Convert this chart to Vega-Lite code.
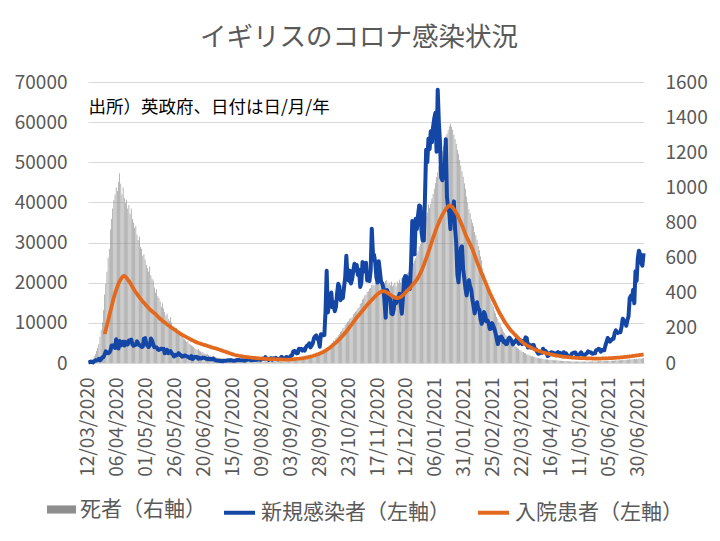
{
"$schema": "https://vega.github.io/schema/vega-lite/v6.json",
"width": 556,
"height": 281,
"autosize": {"type": "none"},
"padding": {"left": 88, "top": 82, "right": 76, "bottom": 178},
"background": "white",
"title": {"text": "イギリスのコロナ感染状況", "font": "Noto Sans CJK JP", "fontSize": 26.5, "fontWeight": "normal", "color": "#595959", "anchor": "middle", "offset": 22, "dx": -7},
"data": {"values": [
{"d":"2020-03-12","de":5,"ca":134},{"d":"2020-03-13","de":8,"ca":208},{"d":"2020-03-14","de":12,"ca":342},{"d":"2020-03-15","de":20,"ca":251},{"d":"2020-03-16","de":25,"ca":152},{"d":"2020-03-17","de":38,"ca":407},{"d":"2020-03-18","de":50,"ca":676},{"d":"2020-03-19","de":68,"ca":643},{"d":"2020-03-20","de":85,"ca":714},{"d":"2020-03-21","de":110,"ca":1035},{"d":"2020-03-22","de":150,"ca":665},{"d":"2020-03-23","de":190,"ca":967},{"d":"2020-03-24","de":230,"ca":1427},{"d":"2020-03-25","de":300,"ca":1452},{"d":"2020-03-26","de":390,"ca":2129,"ho":7200},{"d":"2020-03-27","de":450,"ca":2885,"ho":8300},{"d":"2020-03-28","de":520,"ca":2546,"ho":9400},{"d":"2020-03-29","de":600,"ca":2433,"ho":10500},{"d":"2020-03-30","de":650,"ca":2619,"ho":11700},{"d":"2020-03-31","de":760,"ca":3009,"ho":12900},
{"d":"2020-04-01","de":820,"ca":4324,"ho":14000},{"d":"2020-04-02","de":880,"ca":4244,"ho":15200},{"d":"2020-04-03","de":930,"ca":4450,"ho":16300},{"d":"2020-04-04","de":960,"ca":3735,"ho":17300},{"d":"2020-04-05","de":1000,"ca":5903,"ho":18200},{"d":"2020-04-06","de":980,"ca":3802,"ho":19000},{"d":"2020-04-07","de":1030,"ca":3634,"ho":19800},{"d":"2020-04-08","de":1080,"ca":5491,"ho":20400},{"d":"2020-04-09","de":1020,"ca":4344,"ho":20900},{"d":"2020-04-10","de":960,"ca":5195,"ho":21300},{"d":"2020-04-11","de":1000,"ca":5288,"ho":21600},{"d":"2020-04-12","de":940,"ca":4342,"ho":21700},{"d":"2020-04-13","de":910,"ca":5252,"ho":21500},{"d":"2020-04-14","de":930,"ca":4603,"ho":21200},{"d":"2020-04-15","de":880,"ca":4617,"ho":20800},{"d":"2020-04-16","de":900,"ca":5599,"ho":20400},{"d":"2020-04-17","de":850,"ca":5525,"ho":20000},{"d":"2020-04-18","de":880,"ca":5850,"ho":19500},{"d":"2020-04-19","de":820,"ca":4676,"ho":19000},{"d":"2020-04-20","de":800,"ca":4301,"ho":18500},{"d":"2020-04-21","de":770,"ca":4451,"ho":18000},{"d":"2020-04-22","de":780,"ca":4583,"ho":17600},{"d":"2020-04-23","de":730,"ca":5386,"ho":17200},{"d":"2020-04-24","de":700,"ca":4913,"ho":16800},{"d":"2020-04-25","de":720,"ca":4463,"ho":16400},{"d":"2020-04-26","de":660,"ca":4309,"ho":16000},{"d":"2020-04-27","de":650,"ca":3996,"ho":15700},{"d":"2020-04-28","de":610,"ca":4076,"ho":15300},{"d":"2020-04-29","de":620,"ca":6032,"ho":15000},{"d":"2020-04-30","de":590,"ca":6201,"ho":14700},
{"d":"2020-05-01","de":560,"ca":4806,"ho":14300},{"d":"2020-05-02","de":540,"ca":4339,"ho":14000},{"d":"2020-05-03","de":520,"ca":3985,"ho":13700},{"d":"2020-05-04","de":550,"ca":4406,"ho":13400},{"d":"2020-05-05","de":500,"ca":6111,"ho":13100},{"d":"2020-05-06","de":480,"ca":5614,"ho":12900},{"d":"2020-05-07","de":470,"ca":4649,"ho":12600},{"d":"2020-05-08","de":430,"ca":3896,"ho":12400},{"d":"2020-05-09","de":400,"ca":3923,"ho":12200},{"d":"2020-05-10","de":420,"ca":3877,"ho":11900},{"d":"2020-05-11","de":380,"ca":3403,"ho":11600},{"d":"2020-05-12","de":370,"ca":3242,"ho":11300},{"d":"2020-05-13","de":350,"ca":3446,"ho":11000},{"d":"2020-05-14","de":320,"ca":3560,"ho":10800},{"d":"2020-05-15","de":340,"ca":3450,"ho":10500},{"d":"2020-05-16","de":310,"ca":3534,"ho":10300},{"d":"2020-05-17","de":290,"ca":2412,"ho":10100},{"d":"2020-05-18","de":270,"ca":2684,"ho":9900},{"d":"2020-05-19","de":280,"ca":3287,"ho":9600},{"d":"2020-05-20","de":250,"ca":2472,"ho":9400},{"d":"2020-05-21","de":240,"ca":2615,"ho":9200},{"d":"2020-05-22","de":260,"ca":2959,"ho":9000},{"d":"2020-05-23","de":230,"ca":2405,"ho":8800},{"d":"2020-05-24","de":210,"ca":2142,"ho":8600},{"d":"2020-05-25","de":200,"ca":1625,"ho":8400},{"d":"2020-05-26","de":190,"ca":2013,"ho":8200},{"d":"2020-05-27","de":200,"ca":1887,"ho":8000},{"d":"2020-05-28","de":180,"ca":2095,"ho":7800},{"d":"2020-05-29","de":170,"ca":2445,"ho":7600},{"d":"2020-05-30","de":160,"ca":2012,"ho":7400},{"d":"2020-05-31","de":150,"ca":1936,"ho":7200},
{"d":"2020-06-01","de":165,"ca":1570,"ho":7000},{"d":"2020-06-02","de":140,"ca":1653,"ho":6850},{"d":"2020-06-03","de":135,"ca":1871,"ho":6700},{"d":"2020-06-04","de":130,"ca":1805,"ho":6550},{"d":"2020-06-05","de":120,"ca":1650,"ho":6400},{"d":"2020-06-06","de":125,"ca":1557,"ho":6250},{"d":"2020-06-07","de":110,"ca":1326,"ho":6100},{"d":"2020-06-08","de":105,"ca":1205,"ho":5950},{"d":"2020-06-09","de":100,"ca":1741,"ho":5800},{"d":"2020-06-10","de":95,"ca":1003,"ho":5650},{"d":"2020-06-11","de":90,"ca":1266,"ho":5500},{"d":"2020-06-12","de":85,"ca":1541,"ho":5350},{"d":"2020-06-13","de":80,"ca":1425,"ho":5200},{"d":"2020-06-14","de":75,"ca":1514,"ho":5100},{"d":"2020-06-15","de":80,"ca":1056,"ho":5000},{"d":"2020-06-16","de":70,"ca":1279,"ho":4900},{"d":"2020-06-17","de":65,"ca":1115,"ho":4800},{"d":"2020-06-18","de":60,"ca":1221,"ho":4700},{"d":"2020-06-19","de":62,"ca":1346,"ho":4600},{"d":"2020-06-20","de":55,"ca":1295,"ho":4500},{"d":"2020-06-21","de":50,"ca":1218,"ho":4450},{"d":"2020-06-22","de":48,"ca":1019,"ho":4350},{"d":"2020-06-23","de":52,"ca":958,"ho":4250},{"d":"2020-06-24","de":45,"ca":1089,"ho":4150},{"d":"2020-06-25","de":42,"ca":893,"ho":4050},{"d":"2020-06-26","de":40,"ca":1006,"ho":3950},{"d":"2020-06-27","de":38,"ca":890,"ho":3850},{"d":"2020-06-28","de":40,"ca":1118,"ho":3800},{"d":"2020-06-29","de":35,"ca":815,"ho":3700},{"d":"2020-06-30","de":33,"ca":689,"ho":3650},
{"d":"2020-07-01","de":32,"ca":600,"ho":3550},{"d":"2020-07-02","de":30,"ca":560,"ho":3450},{"d":"2020-07-03","de":28,"ca":540,"ho":3350},{"d":"2020-07-04","de":30,"ca":520,"ho":3250},{"d":"2020-07-05","de":26,"ca":480,"ho":3150},{"d":"2020-07-06","de":25,"ca":450,"ho":3050},{"d":"2020-07-07","de":24,"ca":580,"ho":2950},{"d":"2020-07-08","de":22,"ca":530,"ho":2850},{"d":"2020-07-09","de":24,"ca":540,"ho":2750},{"d":"2020-07-10","de":20,"ca":650,"ho":2650},{"d":"2020-07-11","de":19,"ca":690,"ho":2550},{"d":"2020-07-12","de":18,"ca":640,"ho":2450},{"d":"2020-07-13","de":20,"ca":730,"ho":2350},{"d":"2020-07-14","de":17,"ca":600,"ho":2250},{"d":"2020-07-15","de":16,"ca":560,"ho":2150},{"d":"2020-07-16","de":15,"ca":580,"ho":2050},{"d":"2020-07-17","de":17,"ca":620,"ho":1980},{"d":"2020-07-18","de":14,"ca":700,"ho":1920},{"d":"2020-07-19","de":13,"ca":760,"ho":1860},{"d":"2020-07-20","de":14,"ca":770,"ho":1800},{"d":"2020-07-21","de":12,"ca":690,"ho":1750},{"d":"2020-07-22","de":13,"ca":650,"ho":1700},{"d":"2020-07-23","de":11,"ca":700,"ho":1650},{"d":"2020-07-24","de":12,"ca":650,"ho":1600},{"d":"2020-07-25","de":10,"ca":580,"ho":1560},{"d":"2020-07-26","de":11,"ca":720,"ho":1520},{"d":"2020-07-27","de":12,"ca":760,"ho":1480},{"d":"2020-07-28","de":10,"ca":850,"ho":1440},{"d":"2020-07-29","de":9,"ca":880,"ho":1400},{"d":"2020-07-30","de":11,"ca":746,"ho":1370},{"d":"2020-07-31","de":10,"ca":740,"ho":1340},
{"d":"2020-08-01","de":9,"ca":770,"ho":1300},{"d":"2020-08-02","de":10,"ca":740,"ho":1280},{"d":"2020-08-03","de":8,"ca":940,"ho":1250},{"d":"2020-08-04","de":9,"ca":760,"ho":1220},{"d":"2020-08-05","de":11,"ca":890,"ho":1200},{"d":"2020-08-06","de":8,"ca":950,"ho":1180},{"d":"2020-08-07","de":9,"ca":870,"ho":1150},{"d":"2020-08-08","de":10,"ca":760,"ho":1120},{"d":"2020-08-09","de":8,"ca":1060,"ho":1100},{"d":"2020-08-10","de":7,"ca":1040,"ho":1080},{"d":"2020-08-11","de":9,"ca":1010,"ho":1060},{"d":"2020-08-12","de":10,"ca":1440,"ho":1040},{"d":"2020-08-13","de":8,"ca":1060,"ho":1020},{"d":"2020-08-14","de":9,"ca":1030,"ho":1000},{"d":"2020-08-15","de":7,"ca":770,"ho":990},{"d":"2020-08-16","de":8,"ca":1090,"ho":980},{"d":"2020-08-17","de":10,"ca":1180,"ho":970},{"d":"2020-08-18","de":9,"ca":810,"ho":960},{"d":"2020-08-19","de":8,"ca":1180,"ho":950},{"d":"2020-08-20","de":7,"ca":1030,"ho":940},{"d":"2020-08-21","de":9,"ca":1290,"ho":930},{"d":"2020-08-22","de":10,"ca":1040,"ho":920},{"d":"2020-08-23","de":8,"ca":850,"ho":910},{"d":"2020-08-24","de":9,"ca":1020,"ho":900},{"d":"2020-08-25","de":10,"ca":1180,"ho":890},{"d":"2020-08-26","de":8,"ca":1520,"ho":880},{"d":"2020-08-27","de":9,"ca":1280,"ho":870},{"d":"2020-08-28","de":8,"ca":1110,"ho":860},{"d":"2020-08-29","de":10,"ca":1000,"ho":860},{"d":"2020-08-30","de":9,"ca":1500,"ho":850},{"d":"2020-08-31","de":8,"ca":1420,"ho":850},
{"d":"2020-09-01","de":10,"ca":1330,"ho":860},{"d":"2020-09-02","de":9,"ca":1300,"ho":870},{"d":"2020-09-03","de":11,"ca":1800,"ho":880},{"d":"2020-09-04","de":12,"ca":1900,"ho":900},{"d":"2020-09-05","de":10,"ca":2800,"ho":920},{"d":"2020-09-06","de":11,"ca":3000,"ho":950},{"d":"2020-09-07","de":13,"ca":2900,"ho":980},{"d":"2020-09-08","de":12,"ca":2400,"ho":1000},{"d":"2020-09-09","de":14,"ca":2460,"ho":1030},{"d":"2020-09-10","de":15,"ca":3540,"ho":1060},{"d":"2020-09-11","de":14,"ca":3330,"ho":1100},{"d":"2020-09-12","de":17,"ca":3500,"ho":1140},{"d":"2020-09-13","de":18,"ca":3100,"ho":1180},{"d":"2020-09-14","de":20,"ca":3400,"ho":1230},{"d":"2020-09-15","de":19,"ca":3100,"ho":1280},{"d":"2020-09-16","de":22,"ca":3900,"ho":1340},{"d":"2020-09-17","de":24,"ca":4300,"ho":1400},{"d":"2020-09-18","de":26,"ca":4400,"ho":1460},{"d":"2020-09-19","de":25,"ca":4900,"ho":1530},{"d":"2020-09-20","de":30,"ca":3900,"ho":1600},{"d":"2020-09-21","de":32,"ca":4360,"ho":1680},{"d":"2020-09-22","de":35,"ca":4920,"ho":1760},{"d":"2020-09-23","de":34,"ca":6180,"ho":1850},{"d":"2020-09-24","de":40,"ca":6630,"ho":1940},{"d":"2020-09-25","de":42,"ca":6870,"ho":2040},{"d":"2020-09-26","de":45,"ca":6040,"ho":2150},{"d":"2020-09-27","de":48,"ca":5700,"ho":2260},{"d":"2020-09-28","de":50,"ca":4040,"ho":2380},{"d":"2020-09-29","de":55,"ca":7140,"ho":2500},{"d":"2020-09-30","de":60,"ca":7100,"ho":2630},
{"d":"2020-10-01","de":65,"ca":6914,"ho":2770},{"d":"2020-10-02","de":72,"ca":6968,"ho":2930},{"d":"2020-10-03","de":70,"ca":12872,"ho":3100},{"d":"2020-10-04","de":82,"ca":22961,"ho":3280},{"d":"2020-10-05","de":84,"ca":12594,"ho":3470},{"d":"2020-10-06","de":93,"ca":14542,"ho":3670},{"d":"2020-10-07","de":98,"ca":14162,"ho":3880},{"d":"2020-10-08","de":112,"ca":17540,"ho":4100},{"d":"2020-10-09","de":114,"ca":13864,"ho":4330},{"d":"2020-10-10","de":128,"ca":15166,"ho":4570},{"d":"2020-10-11","de":127,"ca":12872,"ho":4820},{"d":"2020-10-12","de":143,"ca":13972,"ho":5080},{"d":"2020-10-13","de":148,"ca":17234,"ho":5350},{"d":"2020-10-14","de":158,"ca":19724,"ho":5630},{"d":"2020-10-15","de":163,"ca":18980,"ho":5920},{"d":"2020-10-16","de":178,"ca":15650,"ho":6220},{"d":"2020-10-17","de":182,"ca":16982,"ho":6530},{"d":"2020-10-18","de":198,"ca":16171,"ho":6850},{"d":"2020-10-19","de":202,"ca":18804,"ho":7180},{"d":"2020-10-20","de":218,"ca":21331,"ho":7520},{"d":"2020-10-21","de":222,"ca":26688,"ho":7870},{"d":"2020-10-22","de":234,"ca":21242,"ho":8230},{"d":"2020-10-23","de":238,"ca":20530,"ho":8600},{"d":"2020-10-24","de":252,"ca":23012,"ho":8980},{"d":"2020-10-25","de":256,"ca":19790,"ho":9370},{"d":"2020-10-26","de":262,"ca":20890,"ho":9760},{"d":"2020-10-27","de":278,"ca":22885,"ho":10150},{"d":"2020-10-28","de":283,"ca":24701,"ho":10540},{"d":"2020-10-29","de":292,"ca":23065,"ho":10930},{"d":"2020-10-30","de":298,"ca":24405,"ho":11300},{"d":"2020-10-31","de":312,"ca":21915,"ho":11650},
{"d":"2020-11-01","de":318,"ca":23254,"ho":12000},{"d":"2020-11-02","de":338,"ca":18950,"ho":12350},{"d":"2020-11-03","de":343,"ca":20018,"ho":12700},{"d":"2020-11-04","de":362,"ca":25177,"ho":13050},{"d":"2020-11-05","de":368,"ca":24141,"ho":13400},{"d":"2020-11-06","de":384,"ca":22826,"ho":13750},{"d":"2020-11-07","de":388,"ca":24957,"ho":14100},{"d":"2020-11-08","de":404,"ca":20572,"ho":14450},{"d":"2020-11-09","de":408,"ca":21350,"ho":14800},{"d":"2020-11-10","de":423,"ca":20412,"ho":15100},{"d":"2020-11-11","de":427,"ca":22950,"ho":15400},{"d":"2020-11-12","de":444,"ca":33470,"ho":15700},{"d":"2020-11-13","de":447,"ca":27301,"ho":16000},{"d":"2020-11-14","de":441,"ca":26860,"ho":16300},{"d":"2020-11-15","de":458,"ca":24962,"ho":16600},{"d":"2020-11-16","de":456,"ca":21363,"ho":16900},{"d":"2020-11-17","de":473,"ca":20051,"ho":17150},{"d":"2020-11-18","de":452,"ca":25356,"ho":17400},{"d":"2020-11-19","de":463,"ca":22915,"ho":17600},{"d":"2020-11-20","de":461,"ca":20252,"ho":17750},{"d":"2020-11-21","de":474,"ca":19875,"ho":17850},{"d":"2020-11-22","de":457,"ca":18662,"ho":17900},{"d":"2020-11-23","de":452,"ca":15450,"ho":17850},{"d":"2020-11-24","de":468,"ca":11299,"ho":17750},{"d":"2020-11-25","de":472,"ca":18213,"ho":17600},{"d":"2020-11-26","de":447,"ca":17555,"ho":17400},{"d":"2020-11-27","de":458,"ca":16022,"ho":17200},{"d":"2020-11-28","de":442,"ca":15871,"ho":17000},{"d":"2020-11-29","de":463,"ca":12330,"ho":16800},{"d":"2020-11-30","de":437,"ca":12155,"ho":16600},
{"d":"2020-12-01","de":447,"ca":13430,"ho":16450},{"d":"2020-12-02","de":458,"ca":16170,"ho":16300},{"d":"2020-12-03","de":436,"ca":14879,"ho":16200},{"d":"2020-12-04","de":463,"ca":16298,"ho":16150},{"d":"2020-12-05","de":452,"ca":15539,"ho":16200},{"d":"2020-12-06","de":474,"ca":17272,"ho":16300},{"d":"2020-12-07","de":458,"ca":14718,"ho":16450},{"d":"2020-12-08","de":483,"ca":12282,"ho":16650},{"d":"2020-12-09","de":468,"ca":16578,"ho":16900},{"d":"2020-12-10","de":494,"ca":20964,"ho":17200},{"d":"2020-12-11","de":482,"ca":21672,"ho":17500},{"d":"2020-12-12","de":503,"ca":21502,"ho":17800},{"d":"2020-12-13","de":512,"ca":18447,"ho":18100},{"d":"2020-12-14","de":518,"ca":20263,"ho":18400},{"d":"2020-12-15","de":534,"ca":18450,"ho":18700},{"d":"2020-12-16","de":538,"ca":25161,"ho":19000},{"d":"2020-12-17","de":558,"ca":35383,"ho":19400},{"d":"2020-12-18","de":567,"ca":28507,"ho":19700},{"d":"2020-12-19","de":584,"ca":27052,"ho":20000},{"d":"2020-12-20","de":597,"ca":35928,"ho":20400},{"d":"2020-12-21","de":624,"ca":33364,"ho":20800},{"d":"2020-12-22","de":637,"ca":36804,"ho":21300},{"d":"2020-12-23","de":663,"ca":39237,"ho":21800},{"d":"2020-12-24","de":678,"ca":39036,"ho":22400},{"d":"2020-12-25","de":704,"ca":32725,"ho":23000},{"d":"2020-12-26","de":727,"ca":30501,"ho":23700},{"d":"2020-12-27","de":765,"ca":30501,"ho":24400},{"d":"2020-12-28","de":796,"ca":41385,"ho":25200},{"d":"2020-12-29","de":834,"ca":53135,"ho":26000},{"d":"2020-12-30","de":857,"ca":50023,"ho":26800},{"d":"2020-12-31","de":903,"ca":55892,"ho":27700},
{"d":"2021-01-01","de":883,"ca":53285,"ho":28500},{"d":"2021-01-02","de":905,"ca":57725,"ho":29400},{"d":"2021-01-03","de":936,"ca":54990,"ho":30300},{"d":"2021-01-04","de":962,"ca":58784,"ho":31200},{"d":"2021-01-05","de":994,"ca":60916,"ho":32000},{"d":"2021-01-06","de":1025,"ca":62322,"ho":32800},{"d":"2021-01-07","de":1058,"ca":52618,"ho":33600},{"d":"2021-01-08","de":1086,"ca":68053,"ho":34300},{"d":"2021-01-09","de":1117,"ca":59937,"ho":35000},{"d":"2021-01-10","de":1144,"ca":54940,"ho":35700},{"d":"2021-01-11","de":1178,"ca":46169,"ho":36300},{"d":"2021-01-12","de":1205,"ca":45533,"ho":36900},{"d":"2021-01-13","de":1236,"ca":47525,"ho":37400},{"d":"2021-01-14","de":1263,"ca":48682,"ho":37900},{"d":"2021-01-15","de":1288,"ca":55761,"ho":38300},{"d":"2021-01-16","de":1304,"ca":41346,"ho":38700},{"d":"2021-01-17","de":1326,"ca":38598,"ho":39000},{"d":"2021-01-18","de":1348,"ca":37535,"ho":39250},{"d":"2021-01-19","de":1362,"ca":33355,"ho":39200},{"d":"2021-01-20","de":1344,"ca":38905,"ho":39000},{"d":"2021-01-21","de":1328,"ca":37892,"ho":38700},{"d":"2021-01-22","de":1301,"ca":40261,"ho":38300},{"d":"2021-01-23","de":1276,"ca":33552,"ho":37900},{"d":"2021-01-24","de":1248,"ca":30004,"ho":37400},{"d":"2021-01-25","de":1214,"ca":22195,"ho":36900},{"d":"2021-01-26","de":1190,"ca":20089,"ho":36300},{"d":"2021-01-27","de":1156,"ca":25308,"ho":35700},{"d":"2021-01-28","de":1124,"ca":28680,"ho":35000},{"d":"2021-01-29","de":1092,"ca":29079,"ho":34300},{"d":"2021-01-30","de":1060,"ca":23275,"ho":33600},{"d":"2021-01-31","de":1024,"ca":21088,"ho":32800},
{"d":"2021-02-01","de":992,"ca":18607,"ho":32000},{"d":"2021-02-02","de":948,"ca":16840,"ho":31400},{"d":"2021-02-03","de":913,"ca":19202,"ho":30800},{"d":"2021-02-04","de":876,"ca":20634,"ho":30200},{"d":"2021-02-05","de":852,"ca":19114,"ho":29600},{"d":"2021-02-06","de":818,"ca":18262,"ho":29000},{"d":"2021-02-07","de":797,"ca":15845,"ho":28400},{"d":"2021-02-08","de":778,"ca":14104,"ho":27600},{"d":"2021-02-09","de":746,"ca":12364,"ho":26800},{"d":"2021-02-10","de":728,"ca":14013,"ho":26000},{"d":"2021-02-11","de":703,"ca":15144,"ho":25200},{"d":"2021-02-12","de":667,"ca":13494,"ho":24500},{"d":"2021-02-13","de":642,"ca":13308,"ho":23800},{"d":"2021-02-14","de":608,"ca":10972,"ho":23000},{"d":"2021-02-15","de":583,"ca":9765,"ho":22300},{"d":"2021-02-16","de":541,"ca":10625,"ho":21700},{"d":"2021-02-17","de":512,"ca":12718,"ho":21000},{"d":"2021-02-18","de":474,"ca":12027,"ho":20300},{"d":"2021-02-19","de":452,"ca":10406,"ho":19600},{"d":"2021-02-20","de":418,"ca":10641,"ho":18900},{"d":"2021-02-21","de":402,"ca":9985,"ho":18200},{"d":"2021-02-22","de":377,"ca":8489,"ho":17500},{"d":"2021-02-23","de":362,"ca":8523,"ho":16900},{"d":"2021-02-24","de":338,"ca":9938,"ho":16300},{"d":"2021-02-25","de":322,"ca":9260,"ho":15700},{"d":"2021-02-26","de":297,"ca":8523,"ho":15100},{"d":"2021-02-27","de":283,"ca":7434,"ho":14500},{"d":"2021-02-28","de":262,"ca":6035,"ho":13900},
{"d":"2021-03-01","de":252,"ca":4712,"ho":13300},{"d":"2021-03-02","de":233,"ca":6385,"ho":12700},{"d":"2021-03-03","de":222,"ca":5766,"ho":12200},{"d":"2021-03-04","de":203,"ca":6573,"ho":11700},{"d":"2021-03-05","de":192,"ca":6040,"ho":11200},{"d":"2021-03-06","de":178,"ca":5177,"ho":10700},{"d":"2021-03-07","de":171,"ca":5455,"ho":10200},{"d":"2021-03-08","de":158,"ca":4712,"ho":9800},{"d":"2021-03-09","de":152,"ca":4802,"ho":9400},{"d":"2021-03-10","de":138,"ca":5926,"ho":9000},{"d":"2021-03-11","de":131,"ca":6305,"ho":8600},{"d":"2021-03-12","de":123,"ca":5926,"ho":8200},{"d":"2021-03-13","de":117,"ca":5534,"ho":7900},{"d":"2021-03-14","de":108,"ca":4618,"ho":7600},{"d":"2021-03-15","de":102,"ca":5089,"ho":7300},{"d":"2021-03-16","de":94,"ca":5294,"ho":7000},{"d":"2021-03-17","de":91,"ca":5758,"ho":6700},{"d":"2021-03-18","de":84,"ca":6303,"ho":6400},{"d":"2021-03-19","de":81,"ca":4802,"ho":6100},{"d":"2021-03-20","de":74,"ca":5312,"ho":5800},{"d":"2021-03-21","de":71,"ca":5605,"ho":5500},{"d":"2021-03-22","de":64,"ca":4715,"ho":5250},{"d":"2021-03-23","de":63,"ca":5455,"ho":5000},{"d":"2021-03-24","de":57,"ca":5379,"ho":4800},{"d":"2021-03-25","de":56,"ca":6397,"ho":4600},{"d":"2021-03-26","de":49,"ca":6187,"ho":4400},{"d":"2021-03-27","de":49,"ca":3862,"ho":4250},{"d":"2021-03-28","de":44,"ca":4654,"ho":4100},{"d":"2021-03-29","de":43,"ca":3892,"ho":3950},{"d":"2021-03-30","de":39,"ca":4052,"ho":3800},{"d":"2021-03-31","de":38,"ca":4479,"ho":3650},
{"d":"2021-04-01","de":36,"ca":4478,"ho":3500},{"d":"2021-04-02","de":34,"ca":3402,"ho":3380},{"d":"2021-04-03","de":32,"ca":3423,"ho":3260},{"d":"2021-04-04","de":30,"ca":2762,"ho":3150},{"d":"2021-04-05","de":28,"ca":2297,"ho":3050},{"d":"2021-04-06","de":27,"ca":2379,"ho":2950},{"d":"2021-04-07","de":25,"ca":2589,"ho":2850},{"d":"2021-04-08","de":24,"ca":2524,"ho":2750},{"d":"2021-04-09","de":23,"ca":3568,"ho":2660},{"d":"2021-04-10","de":22,"ca":3150,"ho":2580},{"d":"2021-04-11","de":21,"ca":3030,"ho":2500},{"d":"2021-04-12","de":20,"ca":2763,"ho":2420},{"d":"2021-04-13","de":20,"ca":1730,"ho":2340},{"d":"2021-04-14","de":19,"ca":1882,"ho":2270},{"d":"2021-04-15","de":18,"ca":2472,"ho":2200},{"d":"2021-04-16","de":18,"ca":2672,"ho":2130},{"d":"2021-04-17","de":17,"ca":2596,"ho":2070},{"d":"2021-04-18","de":16,"ca":2555,"ho":2010},{"d":"2021-04-19","de":16,"ca":2206,"ho":1950},{"d":"2021-04-20","de":15,"ca":1946,"ho":1900},{"d":"2021-04-21","de":15,"ca":2524,"ho":1850},{"d":"2021-04-22","de":14,"ca":2729,"ho":1800},{"d":"2021-04-23","de":14,"ca":2396,"ho":1750},{"d":"2021-04-24","de":13,"ca":2501,"ho":1700},{"d":"2021-04-25","de":13,"ca":2064,"ho":1660},{"d":"2021-04-26","de":12,"ca":1712,"ho":1620},{"d":"2021-04-27","de":12,"ca":2685,"ho":1580},{"d":"2021-04-28","de":12,"ca":2166,"ho":1540},{"d":"2021-04-29","de":11,"ca":2381,"ho":1500},{"d":"2021-04-30","de":11,"ca":1907,"ho":1470},
{"d":"2021-05-01","de":10,"ca":1671,"ho":1440},{"d":"2021-05-02","de":10,"ca":1649,"ho":1410},{"d":"2021-05-03","de":9,"ca":1671,"ho":1380},{"d":"2021-05-04","de":9,"ca":2357,"ho":1350},{"d":"2021-05-05","de":10,"ca":2490,"ho":1330},{"d":"2021-05-06","de":8,"ca":2613,"ho":1310},{"d":"2021-05-07","de":9,"ca":2613,"ho":1290},{"d":"2021-05-08","de":8,"ca":2047,"ho":1270},{"d":"2021-05-09","de":9,"ca":1770,"ho":1250},{"d":"2021-05-10","de":8,"ca":2047,"ho":1240},{"d":"2021-05-11","de":7,"ca":2284,"ho":1230},{"d":"2021-05-12","de":8,"ca":2657,"ho":1220},{"d":"2021-05-13","de":9,"ca":2193,"ho":1210},{"d":"2021-05-14","de":7,"ca":2027,"ho":1200},{"d":"2021-05-15","de":8,"ca":1926,"ho":1190},{"d":"2021-05-16","de":8,"ca":2202,"ho":1180},{"d":"2021-05-17","de":7,"ca":2434,"ho":1170},{"d":"2021-05-18","de":8,"ca":2874,"ho":1160},{"d":"2021-05-19","de":9,"ca":2696,"ho":1150},{"d":"2021-05-20","de":8,"ca":2694,"ho":1140},{"d":"2021-05-21","de":9,"ca":2493,"ho":1130},{"d":"2021-05-22","de":10,"ca":2296,"ho":1120},{"d":"2021-05-23","de":9,"ca":2439,"ho":1110},{"d":"2021-05-24","de":10,"ca":2412,"ho":1100},{"d":"2021-05-25","de":9,"ca":3180,"ho":1100},{"d":"2021-05-26","de":10,"ca":3240,"ho":1100},{"d":"2021-05-27","de":11,"ca":3542,"ho":1100},{"d":"2021-05-28","de":10,"ca":3398,"ho":1110},{"d":"2021-05-29","de":11,"ca":2829,"ho":1120},{"d":"2021-05-30","de":10,"ca":3165,"ho":1130},{"d":"2021-05-31","de":11,"ca":3240,"ho":1140},
{"d":"2021-06-01","de":11,"ca":3165,"ho":1150},{"d":"2021-06-02","de":12,"ca":4330,"ho":1160},{"d":"2021-06-03","de":11,"ca":5274,"ho":1170},{"d":"2021-06-04","de":12,"ca":6238,"ho":1180},{"d":"2021-06-05","de":13,"ca":5765,"ho":1190},{"d":"2021-06-06","de":12,"ca":5341,"ho":1200},{"d":"2021-06-07","de":13,"ca":5683,"ho":1220},{"d":"2021-06-08","de":14,"ca":6048,"ho":1240},{"d":"2021-06-09","de":13,"ca":6048,"ho":1260},{"d":"2021-06-10","de":14,"ca":7393,"ho":1280},{"d":"2021-06-11","de":15,"ca":8125,"ho":1300},{"d":"2021-06-12","de":14,"ca":7738,"ho":1320},{"d":"2021-06-13","de":15,"ca":7490,"ho":1340},{"d":"2021-06-14","de":16,"ca":7673,"ho":1360},{"d":"2021-06-15","de":17,"ca":7673,"ho":1390},{"d":"2021-06-16","de":16,"ca":9055,"ho":1420},{"d":"2021-06-17","de":18,"ca":11007,"ho":1450},{"d":"2021-06-18","de":17,"ca":10476,"ho":1480},{"d":"2021-06-19","de":19,"ca":10321,"ho":1510},{"d":"2021-06-20","de":18,"ca":9284,"ho":1540},{"d":"2021-06-21","de":20,"ca":10633,"ho":1570},{"d":"2021-06-22","de":19,"ca":11625,"ho":1600},{"d":"2021-06-23","de":21,"ca":16135,"ho":1640},{"d":"2021-06-24","de":20,"ca":16703,"ho":1680},{"d":"2021-06-25","de":22,"ca":15810,"ho":1720},{"d":"2021-06-26","de":21,"ca":18270,"ho":1760},{"d":"2021-06-27","de":23,"ca":14876,"ho":1800},{"d":"2021-06-28","de":22,"ca":22868,"ho":1840},{"d":"2021-06-29","de":24,"ca":20479,"ho":1880},{"d":"2021-06-30","de":23,"ca":26068,"ho":1920},
{"d":"2021-07-01","de":25,"ca":27989,"ho":1960},{"d":"2021-07-02","de":26,"ca":27125,"ho":2000},{"d":"2021-07-03","de":24,"ca":24885,"ho":2040},{"d":"2021-07-04","de":27,"ca":24248,"ho":2080},{"d":"2021-07-05","de":28,"ca":27334,"ho":2120}
]},
"encoding": {
  "x": {"field": "d", "type": "ordinal", "title": null,
    "scale": {"paddingInner": 0.45, "paddingOuter": 0.1},
    "axis": {"values": ["2020-03-12","2020-04-06","2020-05-01","2020-05-26","2020-06-20","2020-07-15","2020-08-09","2020-09-03","2020-09-28","2020-10-23","2020-11-17","2020-12-12","2021-01-06","2021-01-31","2021-02-25","2021-03-22","2021-04-16","2021-05-11","2021-06-05","2021-06-30"],
      "labelExpr": "slice(datum.value, 8, 10) + '/' + slice(datum.value, 5, 7) + '/' + slice(datum.value, 0, 4)",
      "labelAngle": -90, "labelFontSize": 19, "labelColor": "#595959", "labelPadding": 14, "ticks": false, "domain": true, "domainColor": "#d9d9d9", "grid": false}}
},
"layer": [
  {"mark": {"type": "bar"},
   "encoding": {
     "y": {"field": "de", "type": "quantitative", "title": null, "scale": {"domain": [0, 1600]},
       "axis": {"orient": "right", "values": [0,200,400,600,800,1000,1200,1400,1600], "format": "d", "grid": false, "domain": false, "ticks": false, "labelPadding": 21, "labelFontSize": 19, "labelColor": "#595959"}},
     "fill": {"datum": "死者（右軸）", "type": "nominal", "scale": {"domain": ["死者（右軸）"], "range": ["#8e8e8e"]},
       "legend": {"orient": "none", "legendX": -41, "legendY": 413, "title": null, "padding": 0, "symbolType": "M-1,-0.28H1V0.28H-1Z", "symbolSize": 841, "symbolStrokeWidth": 0, "labelFontSize": 21, "labelColor": "#595959", "labelOffset": 4, "labelLimit": 400}}
   }},
  {"layer": [
    {"mark": {"type": "line", "strokeWidth": 4, "strokeJoin": "round"},
     "encoding": {
       "y": {"field": "ca", "type": "quantitative", "title": null, "scale": {"domain": [0, 70000]},
         "axis": {"orient": "left", "values": [0,10000,20000,30000,40000,50000,60000,70000], "format": "d", "grid": true, "gridColor": "#d9d9d9", "gridWidth": 1, "domain": false, "ticks": false, "labelPadding": 21, "labelFontSize": 19, "labelColor": "#595959"}},
       "stroke": {"datum": "新規感染者（左軸）", "type": "nominal", "scale": {"domain": ["新規感染者（左軸）", "入院患者（左軸）"], "range": ["#1446a6", "#e2691e"]},
         "legend": {"orient": "none", "legendX": 134, "legendY": 413, "direction": "horizontal", "title": null, "padding": 0, "symbolType": "stroke", "symbolSize": 961, "symbolStrokeWidth": 4, "labelFontSize": 21, "labelColor": "#595959", "labelOffset": 4, "columnPadding": 20, "labelLimit": 400}}
     }},
    {"mark": {"type": "line", "strokeWidth": 3.75, "strokeJoin": "round"},
     "encoding": {
       "y": {"field": "ho", "type": "quantitative", "title": null},
       "stroke": {"datum": "入院患者（左軸）", "type": "nominal"}
     }},
    {"data": {"values": [{"t": "出所）英政府、日付は日/月/年"}]},
     "mark": {"type": "text", "align": "left", "baseline": "middle", "fontSize": 17.5, "font": "Noto Sans CJK JP", "color": "#000000"},
     "encoding": {
       "x": {"datum": "2020-03-12", "type": "ordinal"},
       "y": {"datum": 63500, "type": "quantitative", "title": null},
       "text": {"field": "t", "type": "nominal"}
     }}
  ]}
],
"resolve": {"scale": {"y": "independent"}},
"config": {
  "view": {"stroke": null},
  "font": "Noto Sans CJK JP",
  "axis": {"labelFont": "Noto Sans CJK JP"},
  "legend": {"labelFont": "Noto Sans CJK JP"}
}
}
